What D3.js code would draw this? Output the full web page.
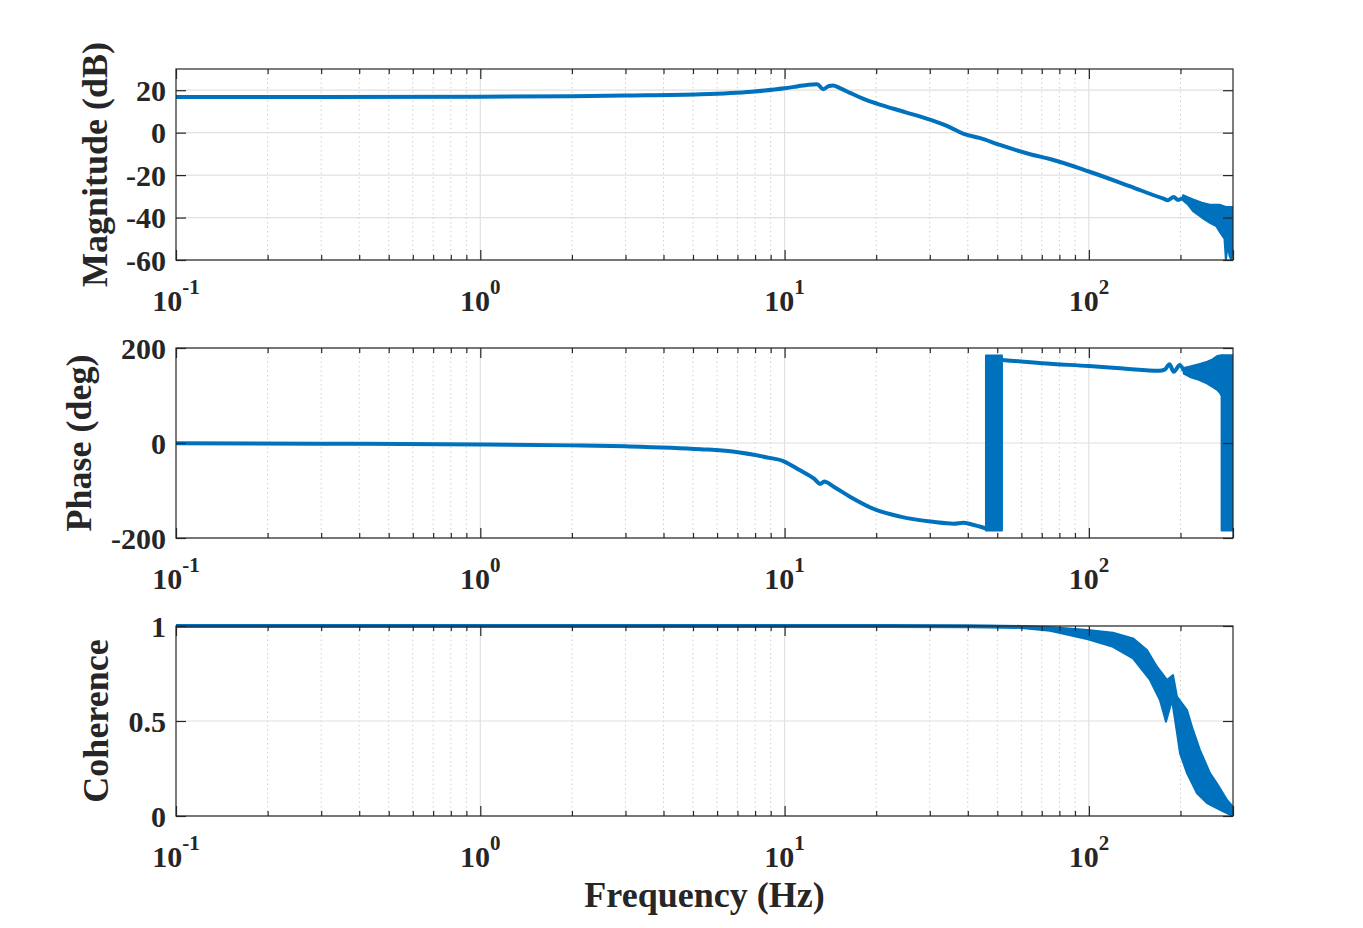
<!DOCTYPE html>
<html>
<head>
<meta charset="utf-8">
<script src="https://cdn.jsdelivr.net/npm/d3@7"></script>
<style>
body { margin: 0; background: #fff; }
text { font-family: "Liberation Serif", "Times New Roman", serif; font-weight: bold; fill: #262626; }
</style>
</head>
<body>
<div id="chart"></div>
<script>
// frequency axis
const freqMin = 0.1, freqMax = 297.6;
const decades = [0.1, 1, 10, 100];
const decadeExp = ["-1", "0", "1", "2"];
const minors = [0.2, 0.3, 0.4, 0.5, 0.6, 0.7, 0.8, 0.9, 2, 3, 4, 5, 6, 7, 8, 9,
                20, 30, 40, 50, 60, 70, 80, 90, 200];

// magnitude (dB)
const magTicks = [-60, -40, -20, 0, 20];
const magFreq = [0.1, 0.3, 1, 2, 3, 5.3, 7.8, 10, 11, 12, 12.8, 13.4, 14, 14.4, 15.2, 16.5, 18, 20, 25, 30.2, 35, 38.8, 44, 51, 65.5, 74.5, 100, 136, 175, 182, 190, 196, 204];
const magDb = [16.8, 16.8, 16.9, 17.2, 17.5, 18.1, 19.3, 20.9, 21.8, 22.6, 22.8, 20.5, 22.0, 22.2, 21.0, 18.6, 16.2, 13.8, 9.6, 6.0, 2.5, -0.6, -2.6, -5.8, -10.5, -12.4, -18.3, -25.2, -31.0, -31.8, -30.3, -31.7, -30.8];
const magNoiseHiFreq = [204, 212, 220, 235, 250, 262, 270, 282, 290, 297.6];
const magNoiseHi = [-29.5, -30.5, -31.5, -33, -34, -34, -34, -35, -35, -35];
const magNoiseLoFreq = [204, 212, 220, 235, 250, 262, 270, 279, 282, 286, 290, 294, 297.6];
const magNoiseLo = [-32, -34, -37, -40, -42.5, -44, -47, -50, -60, -53, -58, -60, -52];

// phase (deg)
const phaseTicks = [-200, 0, 200];
const phaseFreq = [0.1, 0.3, 1, 2, 3, 5.3, 6.75, 8.7, 9.9, 11.2, 12.5, 13.1, 13.5, 14.5, 16.4, 20, 24, 30.7, 36, 38.7, 41, 45.9];
const phaseDeg = [-0.5, -1.5, -3, -5, -7, -13, -18, -30, -38, -57, -75, -86, -81, -92, -113, -141, -155, -166, -170, -168, -171, -180];
const phaseJumpFreq = [45.9, 51.8];
const phaseJumpHi = [184, 184];
const phaseJumpLo = [-184, -184];
const phase2Freq = [51.8, 70, 100, 130, 170, 178, 184, 190, 199, 205];
const phase2Deg = [175, 168, 162, 157, 152, 155, 166, 150, 164, 152];
const phaseNoiseFreq = [205, 215, 230, 245, 255, 264, 270, 273];
const phaseNoiseHi = [158, 161, 166, 171, 176, 183, 184, 184];
const phaseNoiseLo = [146, 139, 133, 125, 118, 112, 105, 100];
const phaseWrapFreq = [273, 297.6];
const phaseWrapHi = [185, 185];
const phaseWrapLo = [-184, -184];

// coherence
const cohTicks = [0, 0.5, 1];
const cohFreq = [0.1, 10, 40, 60];
const cohVal = [1, 1, 0.999, 0.995];
const cohHiFreq = [60, 74.5, 99.3, 120, 139.6, 155.2, 167.4, 180.6, 189.0, 194.8, 210.1, 219.8, 231.8, 250.0, 265.6, 284.4, 297.6];
const cohHi = [1.0, 0.995, 0.979, 0.965, 0.935, 0.874, 0.786, 0.716, 0.742, 0.628, 0.558, 0.453, 0.347, 0.226, 0.163, 0.084, 0.049];
const cohLoFreq = [60, 74.5, 99.3, 120, 139.6, 158.8, 171.2, 179.2, 187.6, 194.8, 199.3, 210.1, 226.6, 244.5, 269.8, 297.6];
const cohLo = [0.99, 0.975, 0.93, 0.89, 0.83, 0.716, 0.61, 0.496, 0.61, 0.437, 0.33, 0.226, 0.12, 0.068, 0.032, 0.0];

const width = 1363, height = 928;
const left = 176, right = 1233;
const blue = "#0072BD", axisColor = "#262626";

const svg = d3.select("#chart").append("svg")
    .attr("width", width)
    .attr("height", height);

const x = d3.scaleLog().domain([freqMin, freqMax]).range([left, right]);

const panels = [
    { top: 69, bottom: 260, domain: [-60, 30], ticks: magTicks, fmt: d => String(d), label: "Magnitude (dB)", labelX: 107,
      lines: [[magFreq, magDb]],
      bands: [[magNoiseHiFreq, magNoiseHi, magNoiseLoFreq, magNoiseLo]] },
    { top: 348, bottom: 538, domain: [-200, 200], ticks: phaseTicks, fmt: d => String(d), label: "Phase (deg)", labelX: 91,
      lines: [[phaseFreq, phaseDeg], [phase2Freq, phase2Deg]],
      bands: [[phaseJumpFreq, phaseJumpHi, phaseJumpFreq, phaseJumpLo],
              [phaseNoiseFreq, phaseNoiseHi, phaseNoiseFreq, phaseNoiseLo],
              [phaseWrapFreq, phaseWrapHi, phaseWrapFreq, phaseWrapLo]] },
    { top: 626, bottom: 816, domain: [0, 1], ticks: cohTicks, fmt: d => String(d), label: "Coherence", labelX: 108,
      lines: [[cohFreq, cohVal]],
      bands: [[cohHiFreq, cohHi, cohLoFreq, cohLo]] }
];

panels.forEach((p, i) => {
    const y = d3.scaleLinear().domain(p.domain).range([p.bottom, p.top]);
    const g = svg.append("g");

    // grid
    g.selectAll("line.minor-grid").data(minors).enter().append("line")
        .attr("x1", d => x(d)).attr("x2", d => x(d))
        .attr("y1", p.top).attr("y2", p.bottom)
        .attr("stroke", "#cfcfcf").attr("stroke-dasharray", "1.5,3");
    g.selectAll("line.xgrid").data(decades.slice(1)).enter().append("line")
        .attr("x1", d => x(d)).attr("x2", d => x(d))
        .attr("y1", p.top).attr("y2", p.bottom)
        .attr("stroke", "#e0e0e0").attr("stroke-width", 1.2);
    g.selectAll("line.ygrid").data(p.ticks).enter().append("line")
        .attr("x1", left).attr("x2", right)
        .attr("y1", d => y(d)).attr("y2", d => y(d))
        .attr("stroke", "#e0e0e0").attr("stroke-width", 1.2);

    // data
    const clipId = "clip" + i;
    svg.append("clipPath").attr("id", clipId).append("rect")
        .attr("x", left).attr("y", p.top - 2).attr("width", right - left).attr("height", p.bottom - p.top + 4);
    const data = g.append("g").attr("clip-path", `url(#${clipId})`);
    const line = d3.line().x(d => x(d[0])).y(d => y(d[1]));
    const smooth = d3.line().x(d => x(d[0])).y(d => y(d[1])).curve(d3.curveMonotoneX);

    p.lines.forEach(([fs, vs]) => {
        data.append("path")
            .datum(fs.map((f, k) => [f, vs[k]]))
            .attr("d", smooth)
            .attr("fill", "none").attr("stroke", blue).attr("stroke-width", 4)
            .attr("stroke-linejoin", "round");
    });
    p.bands.forEach(([hf, hv, lf, lv]) => {
        const pts = hf.map((f, k) => [f, hv[k]])
            .concat(lf.map((f, k) => [f, lv[k]]).reverse());
        data.append("path")
            .datum(pts)
            .attr("d", d => line(d) + "Z")
            .attr("fill", blue).attr("stroke", blue).attr("stroke-width", 2)
            .attr("stroke-linejoin", "round");
    });

    // axes (ticks inward on all sides)
    const styleAxis = sel => {
        sel.select(".domain").remove();
        sel.selectAll(".tick line").attr("stroke", axisColor).attr("stroke-width", 1.2);
    };
    g.append("g").attr("transform", `translate(0,${p.bottom})`)
        .call(d3.axisBottom(x).tickValues(decades.concat([freqMax])).tickSize(-10).tickFormat(() => ""))
        .call(styleAxis);
    g.append("g").attr("transform", `translate(0,${p.top})`)
        .call(d3.axisTop(x).tickValues(decades).tickSize(-10).tickFormat(() => ""))
        .call(styleAxis);
    g.append("g").attr("transform", `translate(0,${p.bottom})`)
        .call(d3.axisBottom(x).tickValues(minors).tickSize(-5).tickFormat(() => ""))
        .call(styleAxis);
    g.append("g").attr("transform", `translate(0,${p.top})`)
        .call(d3.axisTop(x).tickValues(minors).tickSize(-5).tickFormat(() => ""))
        .call(styleAxis);
    g.append("g").attr("transform", `translate(${right},0)`)
        .call(d3.axisRight(y).tickValues(p.ticks).tickSize(-10).tickFormat(() => ""))
        .call(styleAxis);
    const yAxis = g.append("g").attr("transform", `translate(${left},0)`)
        .call(d3.axisLeft(y).tickValues(p.ticks).tickSize(-10).tickPadding(10).tickFormat(p.fmt))
        .call(styleAxis);
    yAxis.attr("font-family", null).attr("font-size", null);
    yAxis.selectAll(".tick text")
        .attr("fill", axisColor)
        .style("font-size", "30px")
        .attr("dy", "0.34em");

    g.append("rect")
        .attr("x", left).attr("y", p.top)
        .attr("width", right - left).attr("height", p.bottom - p.top)
        .attr("fill", "none").attr("stroke", axisColor).attr("stroke-width", 1.2);

    // x tick labels 10^n
    const xl = g.selectAll("text.xtick").data(decades).enter().append("text")
        .attr("class", "xtick")
        .attr("x", d => x(d))
        .attr("y", p.bottom + 51)
        .attr("text-anchor", "middle")
        .style("font-size", "30px");
    xl.append("tspan").text("10");
    xl.append("tspan").text((d, k) => decadeExp[k])
        .attr("dy", -17).style("font-size", "21px");

    // y label
    g.append("text")
        .attr("transform", `translate(${p.labelX},${(p.top + p.bottom) / 2}) rotate(-90)`)
        .attr("text-anchor", "middle")
        .style("font-size", "36px")
        .text(p.label);
});

svg.append("text")
    .attr("x", (left + right) / 2)
    .attr("y", 907)
    .attr("text-anchor", "middle")
    .style("font-size", "36px")
    .text("Frequency (Hz)");
</script>
</body>
</html>
